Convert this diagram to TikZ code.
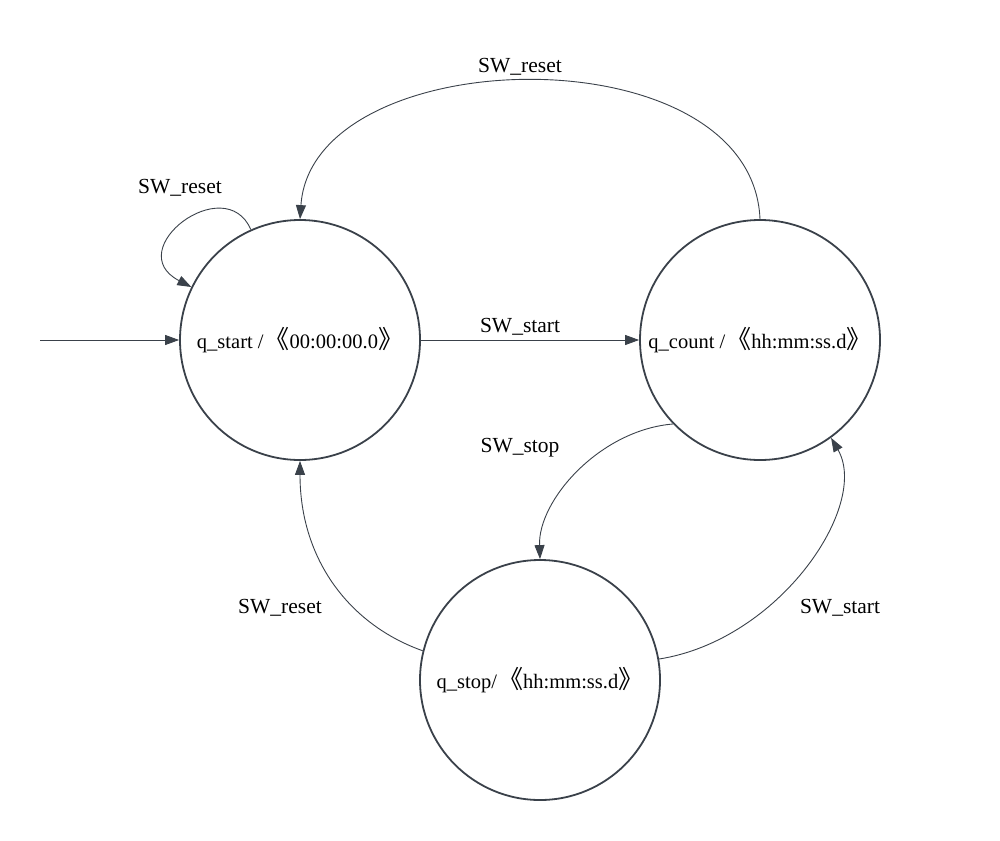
\documentclass[tikz,border=0pt]{standalone}
\usepackage{fontspec}
\setmainfont{Liberation Serif}
\newfontfamily\cjk{Noto Sans CJK SC}
\usetikzlibrary{arrows.meta}
\definecolor{ink}{HTML}{3A414A}
\newcommand\lbk{\hspace{-4pt}{\fontsize{25pt}{25pt}\selectfont\cjk 《}}
\newcommand\rbk{{\fontsize{25pt}{25pt}\selectfont\cjk 》}\hspace{-3pt}}
\tikzset{
  state/.style={circle, draw=ink, line width=1.8pt, minimum size=240pt, inner sep=0pt, text=black, font=\fontsize{20.5pt}{24pt}\selectfont},
  edge/.style={draw=ink, line width=0.9pt, -{Triangle[length=14pt,width=10pt]}},
  lbl/.style={text=black, inner sep=0pt, font=\fontsize{21.5pt}{24pt}\selectfont}
}
\begin{document}
\begin{tikzpicture}[x=1pt,y=-1pt]
\useasboundingbox (0,0) rectangle (1000,840);
\node[state] (s) at (300,340) {q\_start / \lbk00:00:00.0\rbk};
\node[state] (c) at (760,340) {q\_count / \lbk hh:mm:ss.d\rbk};
\node[state] (p) at (540,680) {q\_stop/ \lbk hh:mm:ss.d\rbk};
\coordinate (init) at (40,340);
% initial
\draw[edge] (init) -- (s.west);
% start -> count
\draw[edge] (s.east) -- (c.west);
% count -> start (top)
\draw[edge] (c.90) .. controls (752,30) and (312,40) .. (s.90);
% self loop
\draw[edge] (s.114.9) .. controls (225,170) and (120,250) .. (s.154.7);
% count -> stop
\draw[edge] (c.224.3) .. controls (600,430) and (538,500) .. (p.90);
% stop -> count
\draw[edge] (p.10.6) .. controls (780,640) and (870,505) .. (c.306);
% stop -> start
\draw[edge] (p.166.6) .. controls (350,625) and (300,560) .. (s.270);
% labels
\node[lbl] (l1) at (520,67) {SW\_reset};
\node[lbl] (l2) at (180,188) {SW\_reset};
\node[lbl] (l3) at (520,327) {SW\_start};
\node[lbl] (l4) at (520,448) {SW\_stop};
\node[lbl] (l5) at (840,608) {SW\_start};
\node[lbl] (l6) at (280,608) {SW\_reset};
\end{tikzpicture}
\end{document}
